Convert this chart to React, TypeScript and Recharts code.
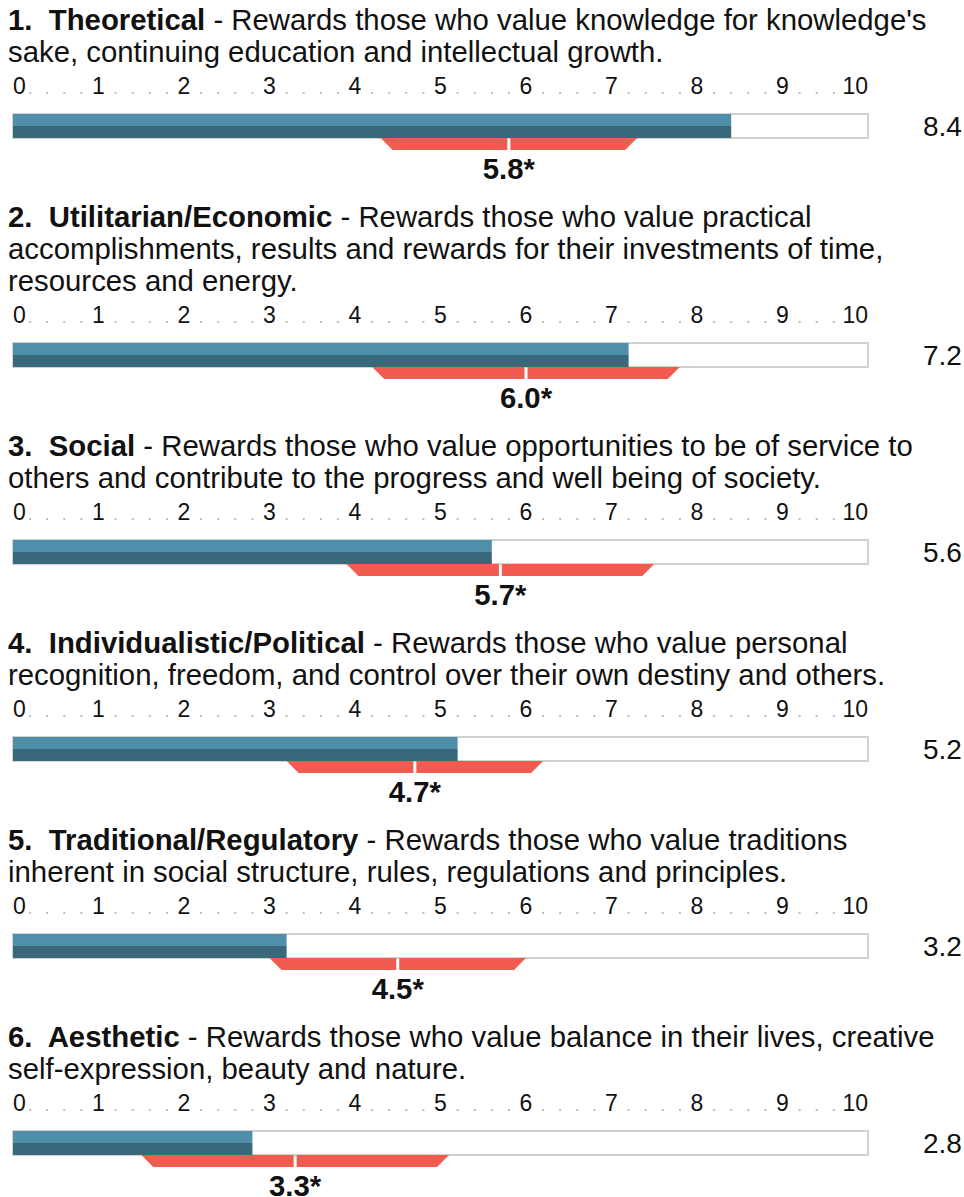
import React from 'react';
import { ComposedChart, Bar, XAxis, YAxis } from 'recharts';

const HEADINGS = [
  '1.  Theoretical',
  '2.  Utilitarian/Economic',
  '3.  Social',
  '4.  Individualistic/Political',
  '5.  Traditional/Regulatory',
  '6.  Aesthetic',
];
const FIRST_LINES = [
  " - Rewards those who value knowledge for knowledge's",
  ' - Rewards those who value practical',
  ' - Rewards those who value opportunities to be of service to',
  ' - Rewards those who value personal',
  ' - Rewards those who value traditions',
  ' - Rewards those who value balance in their lives, creative',
];
const MORE_LINES = [
  ['sake, continuing education and intellectual growth.'],
  ['accomplishments, results and rewards for their investments of time,', 'resources and energy.'],
  ['others and contribute to the progress and well being of society.'],
  ['recognition, freedom, and control over their own destiny and others.'],
  ['inherent in social structure, rules, regulations and principles.'],
  ['self-expression, beauty and nature.'],
];
const SCORES = [8.4, 7.2, 5.6, 5.2, 3.2, 2.8];
const MEANS = [5.8, 6.0, 5.7, 4.7, 4.5, 3.3];
const LOWS = [4.3, 4.2, 3.9, 3.2, 3.0, 1.5];
const HIGHS = [7.3, 7.8, 7.5, 6.2, 6.0, 5.1];
const MAJOR_TICKS = [0, 1, 2, 3, 4, 5, 6, 7, 8, 9, 10];
const MINOR_STEPS = [0.2, 0.4, 0.6, 0.8];
const SCALE_MAX = 10;

const ALL_TICKS: number[] = [];
MAJOR_TICKS.forEach((t) => {
  ALL_TICKS.push(t);
  if (t < SCALE_MAX) MINOR_STEPS.forEach((s) => ALL_TICKS.push(t + s));
});

const FONT = '"Liberation Sans", Arial, Helvetica, sans-serif';
const LIGHT = '#508faa';
const DARK = '#38687a';
const RED = '#f25c50';
const TRACK = '#d2d2d2';
const DOT = '#bdbdbd';

const CHART_W = 956;
const CHART_H = 133;
const TICK_BASELINE = 26;
const VALUE_X = 915;

const AxisTick = (props: any) => {
  const { x, payload } = props;
  const v = payload.value as number;
  const isMajor = Math.abs(v - Math.round(v)) < 1e-6;
  if (isMajor) {
    const anchor = v === 0 ? 'start' : v === SCALE_MAX ? 'end' : 'middle';
    return (
      <text x={x} y={TICK_BASELINE} textAnchor={anchor} fontSize={23} fontFamily={FONT} fill="#111">
        {String(Math.round(v))}
      </text>
    );
  }
  if (v > SCALE_MAX - 0.3) return <g />;
  return <rect x={x - 1} y={TICK_BASELINE - 2} width={2} height={2} fill={DOT} />;
};

const ScoreShape = (p: any) => {
  const { x, y, width, height, payload } = p;
  const h2 = height / 2;
  return (
    <g>
      <rect x={x} y={y} width={width} height={h2} fill={LIGHT} />
      <rect x={x} y={y + h2} width={width} height={h2} fill={DARK} />
      <text x={VALUE_X} y={y + h2} dominantBaseline="central" fontSize={28} fontFamily={FONT} fill="#111">
        {payload.score.toFixed(1)}
      </text>
    </g>
  );
};

const LeftShape = (p: any) => {
  const { x, y, width, height, payload } = p;
  const r = x + width - 1.5;
  const pts = `${x},${y} ${r},${y} ${r},${y + height} ${x + height},${y + height}`;
  return (
    <g>
      <polygon points={pts} fill={RED} />
      <text x={x + width} y={y + height + 29} textAnchor="middle" fontSize={29.3} fontWeight="bold" fontFamily={FONT} fill="#111">
        {payload.mean.toFixed(1) + '*'}
      </text>
    </g>
  );
};

const RightShape = (p: any) => {
  const { x, y, width, height } = p;
  const l = x + 1.5;
  const pts = `${l},${y} ${x + width},${y} ${x + width - height},${y + height} ${l},${y + height}`;
  return <polygon points={pts} fill={RED} />;
};

const Section = ({ i }: { i: number }) => {
  const row = [
    {
      name: HEADINGS[i],
      score: SCORES[i],
      mean: MEANS[i],
      lowOffset: LOWS[i],
      lowerHalf: MEANS[i] - LOWS[i],
      upperHalf: HIGHS[i] - MEANS[i],
    },
  ];
  return (
    <div>
      <div style={{ fontSize: '29.33px', lineHeight: '32px', fontFamily: FONT, color: '#111', whiteSpace: 'pre' }}>
        <div>
          <b>{HEADINGS[i]}</b>
          {FIRST_LINES[i]}
        </div>
        {MORE_LINES[i].map((l, k) => (
          <div key={k}>{l}</div>
        ))}
      </div>
      <ComposedChart
        width={CHART_W}
        height={CHART_H}
        data={row}
        layout="vertical"
        margin={{ top: 5, right: 96, bottom: 50, left: 5 }}
        barCategoryGap={0}
        barGap={2}
      >
        <XAxis
          type="number"
          domain={[0, SCALE_MAX]}
          ticks={ALL_TICKS}
          interval={0}
          orientation="top"
          height={40}
          axisLine={false}
          tickLine={false}
          tick={AxisTick}
        />
        <YAxis type="category" dataKey="name" hide width={0} />
        <Bar
          dataKey="score"
          stackId="score"
          barSize={24}
          background={{ fill: '#fff', stroke: TRACK, strokeWidth: 2 }}
          shape={ScoreShape}
          isAnimationActive={false}
        />
        <Bar dataKey="lowOffset" stackId="pop" barSize={12} fill="transparent" isAnimationActive={false} />
        <Bar dataKey="lowerHalf" stackId="pop" barSize={12} shape={LeftShape} isAnimationActive={false} />
        <Bar dataKey="upperHalf" stackId="pop" barSize={12} shape={RightShape} isAnimationActive={false} />
      </ComposedChart>
    </div>
  );
};

export default function App() {
  return (
    <div style={{ position: 'absolute', left: 8, top: 4, width: CHART_W, background: '#fff' }}>
      {SCORES.map((_, i) => (
        <Section key={i} i={i} />
      ))}
    </div>
  );
}
